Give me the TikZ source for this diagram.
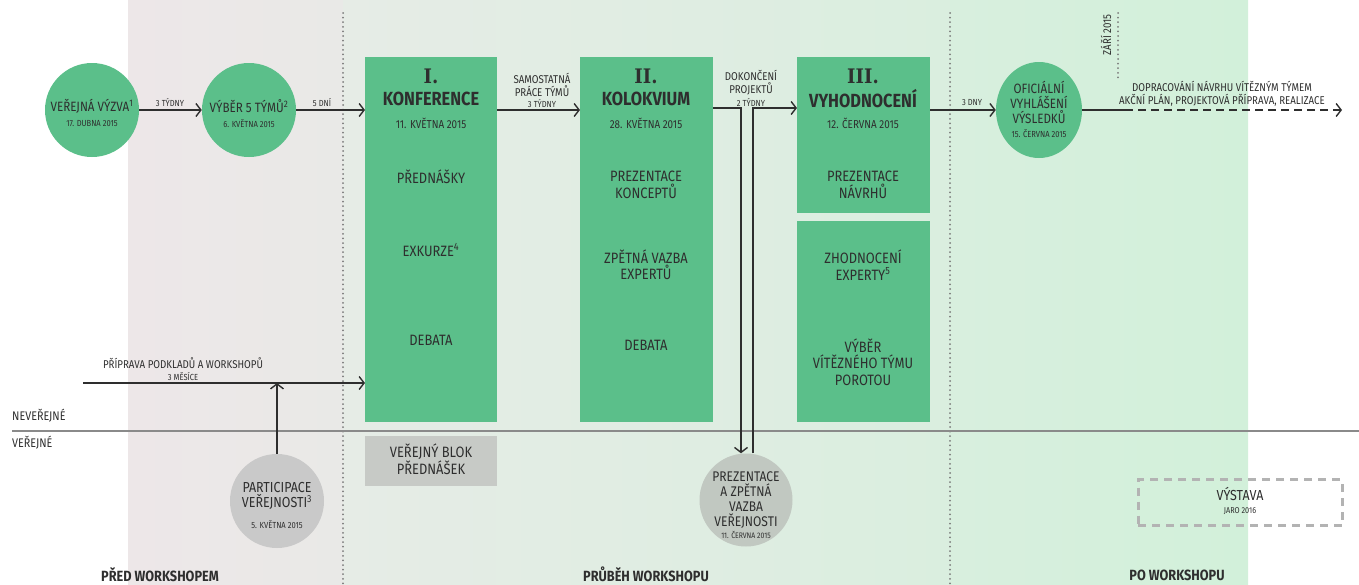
\documentclass[tikz,border=0pt]{standalone}
\usepackage{fontspec}
\setmainfont[FakeStretch=0.86]{Fira Sans}
\newfontfamily\slab[FakeStretch=0.9]{DejaVu Serif}
\usetikzlibrary{arrows.meta,shapes.geometric}
\definecolor{grn}{HTML}{5BBF8A}
\definecolor{ink}{HTML}{2E2E2E}
\definecolor{gcirc}{HTML}{C9C9C9}
\definecolor{gcirc2}{HTML}{C1C8C1}
\definecolor{gbox}{HTML}{C7CAC6}
\definecolor{dotc}{HTML}{7A7A7A}
\definecolor{sepc}{HTML}{8A8A8A}
\definecolor{vyc}{HTML}{B3B3B3}
\definecolor{bgA}{HTML}{EDE7E8}
\definecolor{bgB}{HTML}{E9E9E7}
\definecolor{bgC}{HTML}{E6ECE6}
\definecolor{bgD}{HTML}{DAEEDF}
\definecolor{bgE}{HTML}{D8EFDE}
\definecolor{bgF}{HTML}{D2F0DA}
\tikzset{
  txt/.style={font=\fontsize{15}{16.5}\selectfont, text=ink, align=center, inner sep=0pt},
  ctxt/.style={font=\fontsize{13.5}{15}\selectfont, text=ink, align=center, inner sep=0pt},
  small/.style={font=\fontsize{8.8}{10}\selectfont, text=ink, align=center, inner sep=0pt},
  lbl/.style={font=\fontsize{11.3}{13}\selectfont, text=ink, align=center, inner sep=0pt},
  date/.style={font=\fontsize{11.5}{13}\selectfont, text=ink, align=center, inner sep=0pt},
  ttl/.style={font=\fontsize{19}{22}\selectfont\bfseries, text=ink, align=center, inner sep=0pt},
  roman/.style={font=\fontsize{20}{22}\selectfont\slab\bfseries, text=ink, align=center, inner sep=0pt},
  phase/.style={font=\fontsize{14.8}{16}\selectfont\bfseries, text=ink, inner sep=0pt},
  gbx/.style={fill=grn, draw=none, anchor=north west, inner sep=0pt},
  gcircle/.style={circle, fill=grn, draw=none, inner sep=0pt, minimum size=94pt},
  conn/.style={draw=ink, line width=1.4pt, -{Straight Barb[length=5pt,width=13pt,line width=1.4pt]}},
  plain/.style={draw=ink, line width=1.4pt},
  dotline/.style={draw=dotc, line width=2pt, line cap=round, dash pattern=on 0pt off 4.6pt},
}
\begin{document}
\begin{tikzpicture}[x=1pt,y=-1pt]
\useasboundingbox (0,0) rectangle (1359,584);
% background bands
\shade[left color=bgA, right color=bgB] (128,0) rectangle (343.5,584);
\shade[left color=bgC, right color=bgD] (343,0) rectangle (950.5,584);
\shade[left color=bgE, right color=bgF] (950,0) rectangle (1248,584);

% dotted phase separators
\draw[dotline] (343,13) -- (343,584);
\draw[dotline] (950,13) -- (950,584);
\draw[dotline] (1118,13) -- (1118,78);
\node[lbl, rotate=90] (zari) at (1106,35) {ZÁŘÍ 2015};

% public / non-public separator
\draw[draw=sepc, line width=2.5pt] (12,431) -- (1359,431);
\node[lbl, font=\fontsize{12.5}{14}\selectfont, anchor=west] (nev) at (12,416) {NEVEŘEJNÉ};
\node[lbl, font=\fontsize{12.5}{14}\selectfont, anchor=west] (ver) at (12,443) {VEŘEJNÉ};

% circles
\node[gcircle] (c1) at (92,110) {};
\node[ctxt] (c1t) at (92,106) {VEŘEJNÁ VÝZVA\textsuperscript{1}};
\node[small] (c1d) at (92,124) {17. DUBNA 2015};
\node[gcircle] (c2) at (249,110) {};
\node[ctxt] (c2t) at (249,106) {VÝBĚR 5 TÝMŮ\textsuperscript{2}};
\node[small] (c2d) at (249,124) {6. KVĚTNA 2015};

% boxes
\node[gbx, minimum width=132pt, minimum height=365pt] (k1) at (365,57) {};
\node[gbx, minimum width=133pt, minimum height=365pt] (k2) at (580,57) {};
\node[gbx, minimum width=133pt, minimum height=156pt] (k3) at (797,57) {};
\node[gbx, minimum width=133pt, minimum height=201pt] (k4) at (797,221) {};

\node[roman] (k1a) at (431,76) {I.};
\node[ttl] (k1b) at (431,99) {KONFERENCE};
\node[date] (k1c) at (431,123) {11. KVĚTNA 2015};
\node[txt] (k1d) at (431,177) {PŘEDNÁŠKY};
\node[txt] (k1e) at (431,250) {EXKURZE\textsuperscript{4}};
\node[txt] (k1f) at (431,340) {DEBATA};

\node[roman] (k2a) at (646,76) {II.};
\node[ttl] (k2b) at (646,99) {KOLOKVIUM};
\node[date] (k2c) at (646,123) {28. KVĚTNA 2015};
\node[txt] (k2d) at (646,185) {PREZENTACE\\KONCEPTŮ};
\node[txt] (k2e) at (646,265) {ZPĚTNÁ VAZBA\\EXPERTŮ};
\node[txt] (k2f) at (646,345) {DEBATA};

\node[roman] (k3a) at (863,76) {III.};
\node[ttl] (k3b) at (863,99) {VYHODNOCENÍ};
\node[date] (k3c) at (863,123) {12. ČERVNA 2015};
\node[txt] (k3d) at (863,185) {PREZENTACE\\NÁVRHŮ};
\node[txt] (k4a) at (863,265) {ZHODNOCENÍ\\EXPERTY\textsuperscript{5}};
\node[txt] (k4b) at (863,362) {VÝBĚR\\VÍTĚZNÉHO TÝMU\\POROTOU};

% official result
\node[ellipse, fill=grn, draw=none, inner sep=0pt, minimum width=86pt, minimum height=96pt] (of) at (1039,110) {};
\node[ctxt] (oft) at (1039,102) {OFICIÁLNÍ\\VYHLÁŠENÍ\\VÝSLEDKŮ};
\node[small] (ofd) at (1039,134) {15. ČERVNA 2015};

% public items
\node[fill=gbox, draw=none, anchor=north west, inner sep=0pt, minimum width=132pt, minimum height=50pt] (vb) at (365,436) {};
\node[txt] (vbt) at (431,459) {VEŘEJNÝ BLOK\\PŘEDNÁŠEK};

\node[circle, fill=gcirc, draw=none, inner sep=0pt, minimum size=94pt] (pc) at (277,501) {};
\node[txt, font=\fontsize{14.5}{15.5}\selectfont] (pct) at (277,496) {PARTICIPACE\\VEŘEJNOSTI\textsuperscript{3}};
\node[small] (pcd) at (277,525) {5. KVĚTNA 2015};

\node[circle, fill=gcirc2, draw=none, inner sep=0pt, minimum size=93pt] (pz) at (746,500) {};
\node[txt, font=\fontsize{14}{15}\selectfont] (pzt) at (746,500) {PREZENTACE\\A ZPĚTNÁ\\VAZBA\\VEŘEJNOSTI};
\node[small, font=\fontsize{8}{9}\selectfont] (pzd) at (746,535) {11. ČERVNA 2015};

\node[draw=vyc, dash pattern=on 8pt off 6pt, line width=3pt, inner sep=0pt, minimum width=204pt, minimum height=46pt] (vy) at (1240,502.5) {};
\node[txt, font=\fontsize{14.5}{16}\selectfont] (vyt) at (1240,494) {VÝSTAVA};
\node[small, font=\fontsize{8.5}{10}\selectfont] (vyd) at (1240,511) {JARO 2016};

% connectors
\draw[conn] (c1.east) -- (c2.west);
\node[small] (l1) at (170,103) {3 TÝDNY};
\draw[conn] (c2.east) -- (c2.east -| k1.west);
\node[small] (l2) at (322,103) {5 DNÍ};

\coordinate (r1) at (0,110);
\draw[conn] (k1.east |- r1) -- (k2.west |- r1);
\node[lbl] (l3) at (542,84.5) {SAMOSTATNÁ\\PRÁCE TÝMŮ};
\node[small] (l3b) at (542,104) {3 TÝDNY};

\coordinate (d1) at (741,108);
\coordinate (d2) at (753,108);
\draw[conn] (k2.east |- d1) -- (d1) -- (d1 |- pz.north);
\draw[conn] (d2 |- pz.north) -- (d2) -- (d2 -| k3.west);
\node[lbl] (l4) at (751,83) {DOKONČENÍ\\PROJEKTŮ};
\node[small] (l4b) at (751,102) {2 TÝDNY};

\draw[conn] (k3.east |- r1) -- (of.west);
\node[small] (l5) at (972,103) {3 DNY};

\coordinate (ds) at (1125,110);
\coordinate (de) at (1342,110);
\draw[plain] (of.east) -- (ds);
\draw[conn, dash pattern=on 8pt off 5pt] (ds) -- (de);
\node[lbl] (l6) at (1222,93.5) {DOPRACOVÁNÍ NÁVRHU VÍTĚZNÝM TÝMEM\\AKČNÍ PLÁN, PROJEKTOVÁ PŘÍPRAVA, REALIZACE};

\coordinate (prep) at (83,383);
\draw[conn] (prep) -- (prep -| k1.west);
\node[lbl] (l7) at (183,363) {PŘÍPRAVA PODKLADŮ A WORKSHOPŮ};
\node[small] (l7b) at (183,377) {3 MĚSÍCE};
\draw[conn] (pc.north) -- (pc.north |- prep);

% phase labels
\node[phase] (ph1) at (160,575) {PŘED WORKSHOPEM};
\node[phase] (ph2) at (646,574) {PRŮBĚH WORKSHOPU};
\node[phase] (ph3) at (1177,575) {PO WORKSHOPU};
\end{tikzpicture}
\end{document}
